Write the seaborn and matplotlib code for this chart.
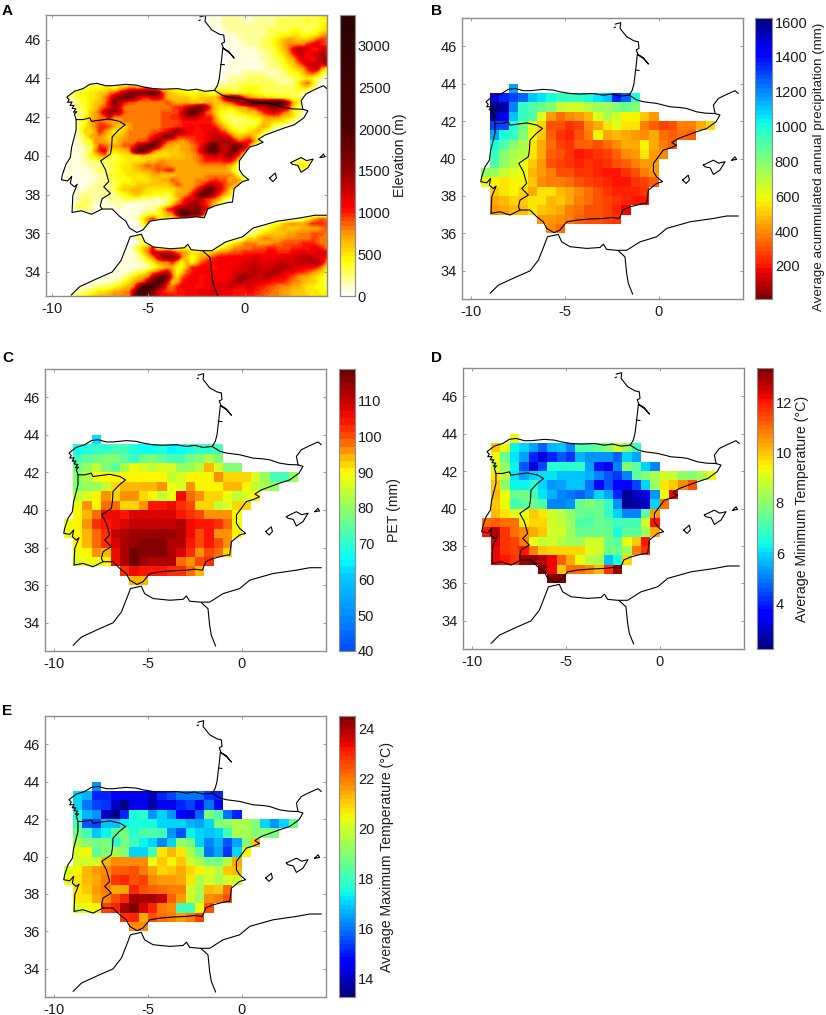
import numpy as np
import pandas as pd
import matplotlib
matplotlib.use("Agg")
import matplotlib.pyplot as plt
from matplotlib.colors import LinearSegmentedColormap, ListedColormap
from matplotlib.path import Path
from matplotlib.patches import PathPatch
import seaborn as sns

# coastline, lon/lat
iberia_lon = [-2.33,-2.03,-2.06,-1.71,-1.32,-1.09,-1.05,-1.2,-1.1,-0.82,-0.55,-0.8,-1.14,-1.21,-1.32,-1.41,-1.57,-2.06,-2.51,-2.95,-3.49,-4.2,-4.73,-5.27,-5.62,-6.16,-6.87,-7.22,-7.67,-8.03,-8.38,-8.83,-9.0,-9.22,-9.1,-9.18,-8.95,-9.05,-8.85,-8.95,-8.75,-8.88,-8.7,-8.83,-8.74,-8.74,-8.83,-8.97,-9.04,-9.27,-9.45,-9.5,-9.18,-8.97,-9.04,-8.83,-8.68,-8.91,-8.95,-8.47,-7.94,-7.4,-6.87,-6.51,-6.16,-5.98,-5.59,-5.27,-4.91,-4.38,-3.67,-2.95,-2.51,-2.1,-1.92,-1.53,-0.82,-0.64,-0.55,-0.11,0.21,-0.11,-0.28,-0.28,0.25,0.6,0.95,0.7,1.05,2.03,2.56,3.06,3.27,3.01,2.92,3.18,3.54,4.07,4.25]
iberia_lat = [47.17,47.25,46.94,46.5,46.28,46.23,45.88,45.8,45.55,45.38,45.04,45.32,45.56,44.9,44.0,43.65,43.38,43.33,43.44,43.38,43.47,43.44,43.47,43.56,43.65,43.69,43.62,43.62,43.74,43.69,43.47,43.33,43.2,43.03,42.9,42.76,42.78,42.6,42.6,42.45,42.42,42.25,42.28,42.15,41.87,41.34,40.98,40.45,39.91,39.56,39.02,38.76,38.7,38.94,38.58,38.4,38.53,37.96,37.07,37.16,36.98,37.25,37.25,36.89,36.62,36.27,36.04,36.18,36.62,36.71,36.77,36.8,36.85,36.8,37.25,37.42,37.6,37.6,38.31,38.67,38.76,39.02,39.29,39.74,40.45,40.55,40.7,40.85,41.07,41.43,41.6,41.96,42.32,42.4,42.85,43.2,43.38,43.62,43.47]
pyrenees_lon = [-1.57,-1.18,-0.82,-0.11,0.25,0.6,1.15,1.49,2.03,2.5,3.01]
pyrenees_lat = [43.38,43.13,43.03,42.94,42.85,42.76,42.72,42.67,42.49,42.42,42.4]
portugal_lon = [-8.74,-8.38,-8.03,-7.94,-7.05,-6.5,-6.2,-6.53,-6.87,-6.9,-6.96,-7.47,-7.22,-7.05,-7.31,-6.96,-7.4,-7.49,-7.4]
portugal_lat = [41.87,41.87,41.96,41.78,41.9,41.78,41.6,41.34,40.98,40.45,40.09,39.74,39.29,38.67,38.4,38.05,37.78,37.42,37.25]
morocco_lon = [-9.0,-8.56,-7.58,-6.87,-6.42,-6.07,-5.94,-5.36,-5.18,-4.73,-3.84,-3.13,-2.95,-2.78,-2.24,-1.71,-1.0,-0.11,0.43,1.67,2.92,3.63,4.25]
morocco_lat = [32.8,33.24,33.69,34.0,34.58,35.47,35.82,35.95,35.55,35.29,35.2,35.25,35.43,35.15,35.1,35.1,35.55,35.82,36.27,36.62,36.8,36.93,36.93]
algeria_lon = [-2.15,-1.8,-1.71,-1.62,-1.39]
algeria_lat = [35.07,34.75,33.86,33.33,32.76]
mallorca_lon = [2.38,2.92,3.2,3.54,3.27,2.92,2.75,2.47,2.38]
mallorca_lat = [39.65,39.91,39.75,39.83,39.38,39.15,39.5,39.56,39.65]
ibiza_lon = [1.28,1.58,1.64,1.46,1.28]
ibiza_lat = [38.85,39.11,38.85,38.67,38.85]
menorca_lon = [3.9,4.07,4.16,3.9]
menorca_lat = [39.91,40.09,39.95,39.91]
oleron_lon = [-2.38,-2.3]
oleron_lat = [46.98,47.02]
arcachon_lon = [-1.25,-1.05]
arcachon_lat = [44.72,44.7]
coast_lines = [(iberia_lon, iberia_lat), (pyrenees_lon, pyrenees_lat), (portugal_lon, portugal_lat),
               (morocco_lon, morocco_lat), (algeria_lon, algeria_lat), (mallorca_lon, mallorca_lat),
               (ibiza_lon, ibiza_lat), (menorca_lon, menorca_lat), (oleron_lon, oleron_lat),
               (arcachon_lon, arcachon_lat)]

# elevation in hundreds of metres, 0.25 degree grid, lon -10.25..4.25, lat 47.25..32.75
elev_rows = [
    [0]*33 + [1,1,1,1,2,2,1, 1,1,1,2,2,2,2,2, 2,2,2,3,3,3,3,3,4,5,5],
    [0]*33 + [0,1,1,1,2,2,2, 2,1,1,1,2,2,2,2, 3,3,3,3,3,3,4,3,3,4,4],
    [0]*34 + [1,1,1,2,2,2, 2,2,2,2,2,2,2,2, 3,3,3,3,3,3,3,3,3,4,5],
    [0]*36 + [1,1,2,2, 2,2,2,2,2,2,3,3, 3,3,3,4,4,3,3,3,4,5,5],
    [0]*37 + [1,1,1, 2,2,2,2,2,2,3,3, 4,4,4,5,5,4,4,4,5,7,8],
    [0]*37 + [0,1,1, 1,2,2,2,2,3,3,4, 5,6,7,7,6,6,6,7,9,10,9],
    [0]*38 + [1,1, 1,1,2,2,2,3,3,4, 5,7,8,8,8,8,10,11,12,10,9],
    [0]*38 + [1,1, 1,1,1,1,2,2,3,3, 5,6,8,11,13,13,12,10,10,13,12],
    [0]*38 + [0,0, 1,1,1,1,1,2,2,3, 4,5,7,10,12,13,10,12,12,14,12],
    [0]*38 + [1,1, 1,1,1,1,1,2,2,3, 3,4,6,7,10,12,11,10,12,14,14],
    [0]*38 + [1,1, 1,1,1,1,1,1,2,2, 3,4,5,6,8,10,12,13,13,12,14],
    [0]*37 + [1,1,1, 1,1,1,1,1,1,2,2, 2,3,4,5,6,7,10,12,13,7,5],
    [0]*37 + [1,1,1, 1,2,2,2,2,2,1,1, 2,2,3,4,4,6,8,9,7,4,2],
    [0]*37 + [1,2,2, 2,2,3,3,3,3,2,2, 2,2,2,3,3,4,5,4,3,2,1],
    [0]*8 + [2,2,2,2,3,3,3,3,3,3,3,3,3,3,3,3,3,3,3,3,3,3,3,3,3,3,3,3,2] + [1,2,2, 3,3,3,3,3,3,3,3, 2,2,2,2,4,7,9,6,2,0,0],
    [0]*4 + [1,2,2,2,3,4,4,4,5,5,4,6,7,9,9,8,9,10,8,6,5,5,4,4,4,4,3,3,3,3,3,3, 2,3,3,3, 3,4,4,4,4,3,3,3, 3,3,3,3,4,5,5,3,1,0,0],
    [0]*4 + [2,3,3,4,4,5,5,6,6,8,9,11,13,15,17,17,17,18,19,16,10,7,6,5,5,4,4,4,5,4,3,4,6,5,4, 3,4,4,5,4,4,3,3,3, 3,3,3,3,3,2,1],
    [0]*5 + [2,3,4,4,5,5,6,8,10,14,16,17,17,15,12,10,10,12,12,10,7,6,6,6,6,5,5,6,6,6,6,9,14,17,17,14,10,8,7,6,6,5,5,4,4,4,3,3,2,1],
    [0]*5 + [1,2,3,4,5,6,6,8,11,16,13,11,9,9,8,8,8,8,8,8,9,8,7,7,7,6,6,6,7,7,6,6,8,9,11,14,17,19,21,20,19,20,21,22,19,13,7,5,3,2],
    [0]*5 + [2,2,3,4,5,6,8,9,11,15,12,8,8,8,8,8,8,8,8,8,8,9,10,10,12,14,16,18,14,9,6,5,5,5,6,7,7,9,10,12,12,14,16,15,13,11,6,3,2,1,1],
    [0]*5 + [1,2,2,3,6,7,9,13,16,14,13,9,8,8,8,8,8,8,8,9,9,9,9,12,17,19,18,14,9,8,6,4,4,3,4,5,6,6,6,8,10,11,12,11,9,8,5,3,2],
    [0]*5 + [1,2,3,4,6,7,8,9,12,8,8,8,8,8,8,8,8,8,8,9,9,10,10,11,13,14,13,11,10,10,7,4,3,3,3,3,3,4,5,5,7,8,8,8,6,6,5,3,1],
    [0]*5 + [1,2,3,4,7,8,9,8,7,7,7,8,8,8,8,8,8,8,8,9,9,9,9,10,10,10,10,10,10,10,8,6,4,3,2,3,3,3,3,4,6,6,5,5,5,3,2],
    [0]*5 + [1,2,3,5,6,8,10,10,9,7,6,5,7,8,8,8,8,8,8,9,9,9,10,10,11,11,10,11,11,11,10,8,6,4,3,3,3,4,4,6,7,6,3,2,1],
    [0]*5 + [1,1,3,6,5,7,10,8,6,4,5,6,8,8,8,8,8,9,9,10,11,14,16,14,11,11,10,10,11,12,12,10,9,6,5,4,4,5,6,7,4,2,1],
    [0]*5 + [1,1,2,4,7,7,8,7,5,6,6,7,8,8,8,8,9,10,12,15,17,15,10,10,10,10,10,10,11,12,13,13,12,10,7,6,7,8,6,4,2],
    [0]*5 + [1,1,2,3,4,8,7,7,6,5,7,8,8,8,9,9,10,14,16,12,9,8,8,7,8,9,10,10,11,13,14,14,14,14,11,9,10,11,8,4],
    [0]*5 + [1,1,1,2,3,6,10,9,8,7,7,9,9,10,14,16,19,19,14,9,7,7,6,7,7,8,9,11,14,20,18,13,13,14,17,16,14,8,3],
    [0]*5 + [1,1,1,2,3,8,10,12,6,5,6,6,7,15,19,18,14,9,7,6,6,6,6,7,7,8,9,12,15,20,18,14,13,15,18,12,9,5],
    [0]*5 + [1,1,1,2,4,5,7,8,4,3,4,5,5,5,5,6,5,5,5,5,5,6,6,6,7,7,8,9,11,12,13,11,14,15,12,9,3],
    [0]*5 + [1,1,1,2,2,3,3,3,3,3,4,4,5,5,5,5,6,6,7,8,7,7,7,7,7,7,8,9,10,10,10,10,11,11,9,5,2] + [0]*9 + [3,3,3,3],
    [0]*4 + [1,1,1,1,1,2,2,2,2,3,4,4,5,5,6,7,8,9,8,9,8,8,7,7,7,7,7,7,8,8,8,8,8,8,7,5,1] + [0]*10 + [3,3,5,5],
    [0]*4 + [1,1,1,1,1,1,2,3,2,3,3,4,5,5,6,6,7,7,8,9,9,10,10,7,7,7,7,7,7,7,7,7,7,7,6,3,1] + [0]*11 + [2,3],
    [0]*4 + [1,1,0,1,1,1,1,2,2,3,4,4,4,5,5,5,5,6,7,7,6,6,6,7,7,7,7,7,7,8,8,8,8,8,8,6,3,1],
    [0]*4 + [1,1,1,1,1,1,1,2,2,3,3,4,4,4,5,5,5,5,6,6,7,7,9,8,7,7,7,8,8,8,9,10,9,9,7,8,7,3,1],
    [0]*5 + [1,0,0,1,1,2,2,2,2,3,4,5,5,5,6,6,6,6,6,6,6,7,9,8,7,7,8,9,11,13,12,11,9,8,7,6,3],
    [0]*5 + [1,1,1,1,2,2,2,2,2,3,5,6,6,7,7,6,5,5,5,5,5,5,6,7,7,8,10,13,17,19,14,11,9,6,4,2],
    [0]*6 + [1,2,2,2,2,2,2,2,2,3,4,5,6,6,5,5,4,4,4,3,5,7,7,8,10,14,18,19,15,12,9,7,5,2],
    [0]*6 + [1,2,3,2,2,1,1,2,2,2,3,3,3,3,2,2,2,1,2,2,4,6,9,11,12,13,13,10,9,8,6,3,1],
    [0]*6 + [2,3,3,2,1,1,1,1,1,2,1,1,0,1,1,1,1,1,2,3,6,9,10,13,14,15,12,10,8,6,3,1],
    [0]*6 + [2,3,2,2,1,1,1,1,1,1,1,1,1,1,1,2,2,3,6,10,11,14,16,15,14,16,15,11,10,4,1],
    [0]*6 + [1,1,1,1,1,1,1,0,0,0,1,1,1,1,2,3,3,4,5,7,8,14,22,22,17,18,14,7,3],
    [0]*17 + [1,1,2,5,8,10,6,5,5,5,5,6,7,7,5,3,1] + [0]*18 + [1,2,4,6,8,9,8],
    [0]*19 + [1,4,8,6,3,1] + [0]*20 + [1,2,4,4,6,7,8,7,7,8,10,10,10,9],
    [0]*20 + [2,2,1] + [0]*20 + [2,2,3,4,5,6,7,6,6,6,7,7,7,7,8,9],
    [0]*21 + [1,1] + [0]*19 + [1,2,4,5,6,6,6,6,7,7,8,8,8,9,9,9,8],
    [0]*18 + [1,3,3] + [0]*19 + [1,3,6,5,7,8,8,7,7,7,8,8,8,8,8,9,9,8,8],
    [0]*19 + [1,3,2] + [0]*15 + [2,4,5,6,8,8,8,7,7,7,8,8,9,9,9,9,10,10,10,9,8,8],
    [0]*17 + [1,2,4,6,8,11,3,3,3,3,3,3,4,2,3,3,2,2,2,4,5,6,8,8,8,8,9,9,9,10,10,9,9,9,10,10,10,10,11,11,10,8],
    [0]*17 + [1,1,3,6,8,12,13,13,14,12,9,8,7,5,5,6,5,6,7,8,8,9,9,9,10,10,10,10,10,11,11,10,10,10,11,11,12,11,11,12,12,11],
    [0]*16 + [1,1,1,2,3,6,8,12,15,16,15,14,8,6,4,5,7,8,9,10,11,11,11,11,11,11,11,12,12,11,11,11,11,12,12,12,13,13,14,13,12,11,10],
    [0]*15 + [1,1,1,1,1,2,3,5,7,8,8,10,7,4,7,4,6,9,10,11,11,11,11,11,11,11,12,12,13,12,11,12,12,13,13,12,12,13,13,13,14,14,12,8],
    [0]*15 + [1,1,1,1,1,1,2,3,5,6,7,7,4,4,7,10,10,11,11,10,10,11,11,11,11,12,12,13,13,13,12,12,13,13,14,14,12,12,11,11,11,10,8,5],
    [0]*14 + [1,1,1,1,2,3,4,6,8,9,11,12,8,4,6,9,10,11,11,11,11,11,11,11,11,12,12,13,13,14,13,13,13,14,14,12,11,11,10,10,9,8,7,6,4],
    [0]*11 + [1,1,1,1,1,2,3,5,6,7,8,13,16,19,17,9,5,9,10,11,11,10,11,11,11,11,11,11,13,14,15,14,13,12,13,14,12,11,11,10,9,8,7,7,6,5,4,3],
    [0]*9 + [1,1,1,1,1,2,2,4,5,7,8,9,14,18,20,19,12,6,7,10,11,11,11,10,11,12,11,11,11,12,13,15,13,12,12,12,11,11,10,10,10,9,8,8,7,6,6,5,4,3],
    [0]*7 + [1,1,1,2,2,3,3,4,5,6,7,8,14,21,23,21,17,14,9,8,10,11,11,11,10,10,11,11,12,12,12,13,12,11,11,13,11,10,10,9,9,8,8,8,7,7,6,5,5,4,4,3],
    [0]*5 + [1,1,2,3,3,4,5,5,6,7,7,8,8,13,22,24,20,16,12,10,9,9,10,10,11,11,11,12,11,12,12,11,11,11,10,10,10,11,10,10,9,9,8,8,7,7,6,6,6,5,5,5,4,4],
    [0]*5 + [2,3,3,4,5,6,6,7,7,8,8,8,8,15,23,22,17,14,13,11,11,11,10,10,11,11,11,11,11,12,11,11,11,11,10,10,10,10,10,9,9,8,8,8,7,7,6,6,6,6,5,5,5,5],
]

# climate cells, west edge of first cell per row, rows from lat 43.5 down to 36
cell_lat_south = [43.5,43,42.5,42,41.5,41,40.5,40,39.5,39,38.5,38,37.5,37,36.5,36]
cell_first_lon = [-8,-9,-9,-9,-9,-9,-9,-9,-9,-9.5,-9.5,-9,-9,-9,-6.5,-6]

precip_rows = [
    [1150],
    [1450,1350,1300,1250,1100,1050,1000,950,950,950,1000,1050,1100,1350,1250,1000],
    [1600,1550,1200,950,900,850,800,680,650,650,700,750,750,800,850,800],
    [1500,1450,1100,950,900,620,430,350,400,420,470,640,720,650,580,570,500,430],
    [1300,1300,1000,820,620,530,300,300,250,270,400,450,560,620,560,560,370,330,280,300,370,380,450,520],
    [1150,1000,950,800,600,500,330,260,230,300,380,570,450,470,450,430,400,450,350,330,350,330],
    [1000,900,800,720,550,440,350,270,240,320,320,300,350,400,460,440,580,450,380,330],
    [950,800,720,700,560,440,330,300,250,200,220,260,280,330,400,420,560,430,400],
    [900,780,700,600,500,430,300,270,250,230,240,230,260,310,320,380,420,420],
    [780,750,680,640,590,480,420,370,310,290,250,240,230,210,200,250,300,370,420],
    [600,570,560,570,570,490,390,370,370,350,300,280,250,220,210,200,240,280,330],
    [500,540,570,520,460,560,540,470,460,400,340,300,260,230,220,220,240],
    [440,480,520,500,550,560,480,500,440,380,340,300,270,240,220,210,200],
    [430,440,470,480,550,510,470,440,370,340,300,290,270,230,180],
    [430,430,400,370,330,310,300,280,260],
    [400,360],
]
pet_rows = [
    [62],
    [66,68,70,70,72,72,68,66,66,68,64,66,68,70,70,72],
    [72,74,77,78,78,75,70,77,78,75,72,72,77,79,82,78],
    [77,81,84,79,75,83,89,86,84,86,86,81,81,84,94,87,79,79],
    [78,82,88,90,90,90,90,90,90,90,85,87,90,90,90,97,93,93,93,87,80,73,73,80],
    [79,80,81,84,92,94,94,94,94,96,88,87,97,91,91,91,95,95,90,84,83,81],
    [85,87,90,96,92,97,97,93,90,84,89,106,99,96,93,93,89,85,87,90],
    [89,96,90,98,99,93,93,96,104,104,106,102,100,93,93,85,87,92,92],
    [90,94,99,106,106,105,107,108,107,107,108,105,102,100,97,96,97,90],
    [89,91,97,102,105,106,107,110,110,110,110,110,112,106,104,104,102,98,89],
    [88,91,95,98,103,110,112,113,114,114,114,114,111,106,100,105,97,96,90],
    [90,94,99,103,107,111,114,115,115,115,112,111,105,100,104,101,96],
    [88,90,96,94,106,111,117,116,116,115,112,108,103,97,100,99,92],
    [87,88,88,90,106,112,118,113,112,111,111,99,96,100,103],
    [103,106,105,104,104,103,103,98,95],
    [95,95],
]
tmin_rows = [
    [9.2],
    [9.9,9.3,6.3,6.0,5.5,4.8,5.6,5.7,5.1,7.2,7.2,7.6,7.9,9.0,8.2,6.8],
    [9.2,7.6,6.2,5.5,4.0,3.2,4.0,4.6,4.2,5.6,5.2,5.3,5.2,4.8,6.0,5.5],
    [9.1,8.0,6.3,4.6,3.2,4.4,6.6,6.6,6.6,6.9,5.5,3.8,3.3,5,7.9,7.3,6,5],
    [9.6,8.6,6.2,5.4,6.0,6.2,6.1,5.8,5.8,5.8,5.6,5.0,4.5,4.2,5.0,7.3,7.8,8.4,9.0,8.7,8.0,7.8,8.4,9.2],
    [10,8,6.3,6.3,6.6,6,5.3,5.5,5.7,5.8,4.9,3.5,4.5,3.5,3.5,4.4,6,8.2,9.7,10,10.6,11.4],
    [10.2,9.2,7.6,7.7,7.0,6.2,5.6,5,4.9,4.8,5,6,5.4,4,2.4,3,3.2,5.2,9.2,12.2],
    [10,9.2,7,7.3,7.6,7.1,5,5,5.2,7.5,7.8,7.5,6.8,5.3,2.5,2.7,3.0,6,11],
    [10.2,9.7,9.1,9.3,9.9,9.6,9,8.6,8,7.6,7.4,7.6,6.8,6,5,5,7.3,10.5],
    [11,11.2,11,11,9.5,9.8,9.8,9,8.8,8.2,7.2,7.2,7.6,7.4,7,7,7,9,12],
    [12,12.8,11.8,11,10.7,10.3,10,9,9,8.3,7.6,7.5,7.5,7.5,6.5,7.4,7.4,8.3,10.3],
    [12.4,11.8,11.6,10.8,9.2,8.8,9,8.6,8.3,8.2,8.9,9,7.6,7.4,9.2,10,12],
    [12.2,11.8,11.6,12,10.8,10,9.8,9.8,9.8,9.8,9.1,9,7.7,7.6,8.2,10.8,11.8],
    [12.3,12,11.8,13,13.2,12.8,12.2,11.2,10.3,9.2,8.6,8.4,5.8,6.4,9.8],
    [13.3,12.2,10,11,11,10.6,10.2,11.8,13],
    [13.5,13.5],
]
tmax_rows = [
    [16.4],
    [17,16.7,15,15,14.6,14.3,14.4,14.3,13.9,15,15.5,15.9,16,16,15.3,15.1],
    [17,16,15.4,15.3,14,13.1,14.3,14.4,13.7,14.4,14.3,15,15.4,14.7,16,14.8],
    [17.5,16.6,16.4,14,13.2,15,17.6,17.7,16.3,17,16.3,14.5,14.2,15.8,19,18.2,16,15],
    [18,15.6,15.5,16.8,16.8,17.3,17.5,17.5,17.5,17,17,17,16.6,16.5,17,19,19.2,19.4,19.5,19,17,16.3,17,18.6],
    [18.8,18,16.8,17.3,18.4,18.7,17.8,18.3,18.3,18,16.4,15.6,17.3,17,16.8,17,18,19.4,19.5,19,19,18.8],
    [19.5,19,18.7,19,17.8,18.8,18,17.4,17,16.2,17,19.2,18.7,17,16.2,16.6,15.7,16.5,19,21],
    [20.2,20.5,18.4,19,19.5,19,17.1,17,18,20.8,21.2,20.8,19.4,18.5,16,16.5,15.2,17,20.5],
    [20,20,20.1,21.3,21.8,21.8,21.7,21.7,20.4,21,20.6,21,20,19.5,18.7,18.8,19.6,21.5],
    [20.2,20.6,21.2,21.6,21.8,22.3,22.3,22.4,22,21.4,20.9,21.1,21.5,20.9,20.6,20.2,19.7,21,21.3],
    [20.3,20.8,21.2,21.4,22,22.9,23,22.5,22.6,21.8,21.6,21.6,21.4,20.7,19.5,20,19.5,20,20],
    [20.7,21,21.6,22,21.4,21.5,23,22.4,22.3,22.2,22,21.9,20,19.5,21.2,21,22.2],
    [20.8,20.7,21.5,21.7,22.4,23,24,24.1,24,23.7,22.3,21.6,20,19.3,21.8,22,22.4],
    [20.2,20.3,20.5,22.7,23,24,24.5,23.6,23,22,21.8,18,18,20.3,22.5],
    [22.8,23,21.4,22.4,22.2,22,21.6,22,22.7],
    [21.8,21.8],
]

lat_ticks = [34,36,38,40,42,44,46]
lon_ticks = [-10,-5,0]
elev_ticks = [0,500,1000,1500,2000,2500,3000]
precip_ticks = [200,400,600,800,1000,1200,1400,1600]
pet_ticks = [40,50,60,70,80,90,100,110]
tmin_ticks = [4,6,8,10,12]
tmax_ticks = [14,16,18,20,22,24]

sns.set_style("white")
plt.rcParams["font.family"] = ["Liberation Sans", "DejaVu Sans"]
plt.rcParams["font.size"] = 10

W, H = 826, 1015
GREY = "#8c8c8c"
TXT = "#1c1c1c"


def px_axes(fig, left, top, right, bottom):
    return fig.add_axes([left / W, 1 - bottom / H, (right - left) / W, (bottom - top) / H])


def style_ax(ax):
    for s in ax.spines.values():
        s.set_visible(True)
        s.set_color(GREY)
        s.set_linewidth(1.0)
    ax.tick_params(direction="in", length=2.5, width=0.6, color=GREY, labelsize=10.5,
                   labelcolor=TXT, top=True, right=True, bottom=True, left=True, pad=4)


def style_cbar(cax, label, labelpad, size=10.2, y=0.5):
    for s in cax.spines.values():
        s.set_visible(True)
        s.set_color(GREY)
    cax.tick_params(direction="in", length=2, width=0.6, color="#333333", labelsize=10.5,
                    labelcolor=TXT, pad=2, right=True)
    cax.set_ylabel(label, fontsize=size, color=TXT, labelpad=labelpad, y=y)


def fill_grid(rows):
    # full 0.5 degree frame, lon -10.5..4.5, lat 47.5..32.5, nan where no cell
    grid = np.full((30, 30), np.nan)
    for south, first, vals in zip(cell_lat_south, cell_first_lon, rows):
        r = int(round((47.5 - (south + 0.5)) * 2))
        c = int(round((first + 10.5) * 2))
        grid[r, c:c + len(vals)] = vals
    return pd.DataFrame(grid)


def cell_panel(fig, box, cbox, rows, cmap, vmin, vmax, ticks, label, labelpad, letter, lx, ly, size=10.2, y=0.5):
    ax = px_axes(fig, *box)
    cax = px_axes(fig, *cbox)
    sns.heatmap(fill_grid(rows), ax=ax, cbar_ax=cax, cmap=cmap, vmin=vmin, vmax=vmax,
                xticklabels=False, yticklabels=False, cbar_kws={"ticks": ticks})
    for lons, lats in coast_lines:
        ax.plot((np.array(lons) + 10.5) * 2, (47.5 - np.array(lats)) * 2, color="black", lw=0.8)
    ax.set_xticks([(t + 10.5) * 2 for t in lon_ticks])
    ax.set_xticklabels([str(t) for t in lon_ticks], rotation=0)
    ax.set_yticks([(47.5 - t) * 2 for t in lat_ticks])
    ax.set_yticklabels([str(t) for t in lat_ticks], rotation=0)
    style_ax(ax)
    style_cbar(cax, label, labelpad, size, y)
    fig.text(lx / W, 1 - ly / H, letter, fontsize=11, fontweight="bold", color="black", va="center")


jet64 = plt.get_cmap("jet", 64)
jet_cmap = ListedColormap(jet64(np.arange(64)))
jet_rev = ListedColormap(jet64(np.arange(64))[::-1])
pet_anchors = [(40, "#0050ff"), (50, "#0090ff"), (60, "#00c8ff"), (65, "#00ffff"), (70, "#30ffd0"),
               (80, "#90ff60"), (90, "#ffff00"), (95, "#ffb000"), (100, "#ff5000"), (105, "#ff1000"),
               (110, "#cc0000"), (118.8, "#700000")]
pet_cmap = LinearSegmentedColormap.from_list(
    "pet", [((v - 40) / 78.8, c) for v, c in pet_anchors], N=40)
elev_cmap = LinearSegmentedColormap.from_list(
    "elev", [(0, "#ffffff"), (0.12, "#ffff00"), (0.22, "#ff9900"), (0.31, "#ff0000"),
             (0.45, "#8c0000"), (0.6, "#4d0000"), (1, "#2a0000")], N=64)

fig = plt.figure(figsize=(W / 100, H / 100), dpi=100)

# A - elevation
ax = px_axes(fig, 46, 15, 327, 296)
cax = px_axes(fig, 340, 15, 355, 296)
elev = np.array([r + [0] * (59 - len(r)) for r in elev_rows], dtype=float) * 100
im = ax.imshow(elev, cmap=elev_cmap, vmin=0, vmax=3367, extent=(-10.375, 4.375, 32.625, 47.375),
               interpolation="bilinear", aspect="auto")
land_iberia = list(zip(iberia_lon, iberia_lat)) + [(4.6, 43.47), (4.6, 47.6), (-2.33, 47.6), (-2.33, 47.17)]
land_africa = list(zip(morocco_lon, morocco_lat)) + [(4.6, 36.93), (4.6, 32.4), (-9.0, 32.4), (-9.0, 32.8)]
land_isle = list(zip(mallorca_lon, mallorca_lat))
land_verts = land_iberia + land_africa + land_isle
land_codes = []
for part in (land_iberia, land_africa, land_isle):
    land_codes += [Path.MOVETO] + [Path.LINETO] * (len(part) - 2) + [Path.CLOSEPOLY]
clip = PathPatch(Path(land_verts, land_codes), transform=ax.transData, fc="none", ec="none")
ax.add_patch(clip)
im.set_clip_path(clip)
for lons, lats in coast_lines:
    ax.plot(lons, lats, color="black", lw=0.8)
ax.set_xlim(-10.3, 4.26)
ax.set_ylim(32.76, 47.27)
ax.set_xticks(lon_ticks)
ax.set_xticklabels([str(t) for t in lon_ticks])
ax.set_yticks(lat_ticks)
ax.set_yticklabels([str(t) for t in lat_ticks])
style_ax(ax)
cb = fig.colorbar(im, cax=cax, ticks=elev_ticks)
style_cbar(cax, "Elevation (m)", 2)
fig.text(2 / W, 1 - 11 / H, "A", fontsize=11, fontweight="bold", color="black", va="center")

cell_panel(fig, (462, 18, 743, 299), (755, 18, 772, 299), precip_rows, jet_rev, 10, 1623, precip_ticks,
           "Average acummulated annual precipitation (mm)", 4, "B", 431, 11, size=9.6, y=0.47)
cell_panel(fig, (45, 369, 326, 651), (339, 369, 355, 651), pet_rows, pet_cmap, 40, 118.8, pet_ticks,
           "PET (mm)", 3, "C", 2, 358)
cell_panel(fig, (463, 368, 744, 649), (757, 368, 773, 649), tmin_rows, jet_cmap, 2.18, 13.38, tmin_ticks,
           "Average Minimum Temperature (°C)", 2, "D", 431, 358)
cell_panel(fig, (45, 716, 326, 997), (339, 716, 355, 997), tmax_rows, jet_cmap, 13.24, 24.5, tmax_ticks,
           "Average Maximum Temperature (°C)", 4, "E", 2, 711)

fig.savefig("out.png", dpi=100)
